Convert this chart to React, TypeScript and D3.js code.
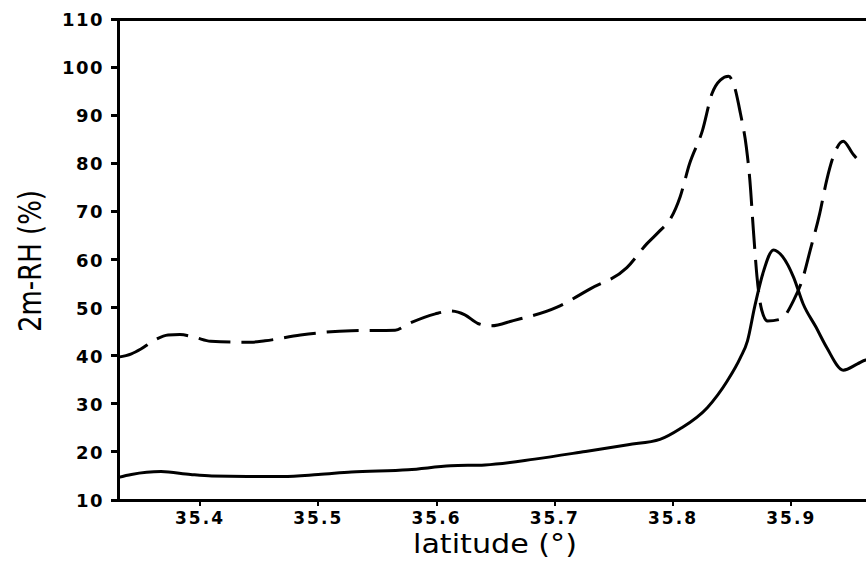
import React from "react";
import * as d3 from "d3";

// 2 m relative humidity along a meridional transect
const latSolid = [35.331, 35.342, 35.367, 35.392, 35.41, 35.44, 35.47, 35.5, 35.528, 35.576, 35.612, 35.641, 35.683, 35.726, 35.762, 35.789, 35.806, 35.829, 35.846, 35.857, 35.863, 35.869, 35.876, 35.885, 35.893, 35.902, 35.91, 35.921, 35.93, 35.944, 35.956, 35.963, 35.975];
const rhSolid = [14.7, 15.3, 15.9, 15.3, 15.0, 14.9, 14.9, 15.3, 15.8, 16.3, 17.1, 17.3, 18.5, 20.1, 21.5, 22.6, 24.8, 29.2, 34.8, 39.6, 43.1, 50.1, 57.1, 62.0, 60.5, 56.3, 50.8, 45.9, 41.7, 37.0, 38.3, 39.1, 39.4];

const latDashed = [35.331, 35.342, 35.35, 35.362, 35.373, 35.383, 35.396, 35.409, 35.443, 35.455, 35.485, 35.528, 35.565, 35.576, 35.599, 35.612, 35.624, 35.635, 35.646, 35.665, 35.702, 35.73, 35.761, 35.778, 35.789, 35.798, 35.806, 35.814, 35.825, 35.833, 35.84, 35.847, 35.852, 35.857, 35.862, 35.865, 35.868, 35.871, 35.875, 35.88, 35.891, 35.902, 35.91, 35.916, 35.924, 35.93, 35.935, 35.944, 35.952, 35.958, 35.963, 35.975];
const rhDashed = [39.7, 40.4, 41.4, 43.3, 44.3, 44.4, 43.8, 43.0, 42.8, 43.1, 44.3, 45.2, 45.3, 46.6, 48.7, 49.3, 48.5, 46.7, 46.2, 47.3, 50.1, 53.9, 58.3, 63.3, 66.0, 68.5, 73.0, 79.9, 86.9, 94.5, 97.3, 98.1, 95.9, 90.4, 83.4, 76.5, 66.0, 56.5, 49.5, 47.2, 47.6, 51.5, 56.3, 61.9, 69.5, 76.5, 81.0, 84.6, 82.0, 80.6, 80.6, 80.5];

const xTicks = [35.4, 35.5, 35.6, 35.7, 35.8, 35.9];
const yTicks = [10, 20, 30, 40, 50, 60, 70, 80, 90, 100, 110];

const W = 866;
const H = 567;

export default function App() {
  const x = d3.scaleLinear().domain([35.4, 35.8]).range([200, 673]);
  const xLeft = 35.3307;
  const xRight = 36.0;
  const y = d3.scaleLinear().domain([10, 110]).range([500, 19]);

  const left = x(xLeft);
  const right = x(xRight);

  const line = d3
    .line<[number, number]>()
    .x((d) => x(d[0]))
    .y((d) => y(d[1]))
    .curve(d3.curveMonotoneX);

  const solid = line(latSolid.map((l, i) => [l, rhSolid[i]]) as [number, number][]);
  const dashed = line(latDashed.map((l, i) => [l, rhDashed[i]]) as [number, number][]);

  const tickFont = "'DejaVu Sans', sans-serif";

  return (
    <svg
      width={W}
      height={H}
      style={{ position: "absolute", left: 0, top: 0, background: "#fff" }}
    >
      <defs>
        <clipPath id="plot">
          <rect x={left} y={y(110)} width={right - left} height={y(10) - y(110)} />
        </clipPath>
      </defs>

      <g clipPath="url(#plot)" fill="none" stroke="#000" strokeWidth={3} strokeLinejoin="round">
        <path d={solid ?? ""} />
        <path d={dashed ?? ""} strokeDasharray="32 11" strokeLinecap="butt" />
      </g>

      {/* frame */}
      <rect
        x={left}
        y={y(110)}
        width={right - left}
        height={y(10) - y(110)}
        fill="none"
        stroke="#000"
        strokeWidth={3}
        shapeRendering="crispEdges"
      />

      {/* y axis ticks and labels */}
      {yTicks.map((t) => (
        <g key={"y" + t}>
          <line x1={left - 7} x2={left} y1={y(t)} y2={y(t)} stroke="#000" strokeWidth={3} shapeRendering="crispEdges" />
          <text
            x={104}
            y={y(t) + 7}
            textAnchor="end"
            fontFamily={tickFont}
            fontWeight="bold"
            fontSize={18}
            letterSpacing={1.5}
            fill="#000"
          >
            {t}
          </text>
        </g>
      ))}

      {/* x axis ticks and labels */}
      {xTicks.map((t) => (
        <g key={"x" + t}>
          <line x1={x(t)} x2={x(t)} y1={y(10)} y2={y(10) + 6} stroke="#000" strokeWidth={2} shapeRendering="crispEdges" />
          <text
            x={x(t)}
            y={524}
            textAnchor="middle"
            fontFamily={tickFont}
            fontWeight="bold"
            fontSize={17}
            letterSpacing={2}
            fill="#000"
          >
            {t.toFixed(1)}
          </text>
        </g>
      ))}

      {/* axis titles */}
      <text
        x={495}
        y={553}
        textAnchor="middle"
        fontFamily={tickFont}
        fontSize={26}
        textLength={164}
        lengthAdjust="spacingAndGlyphs"
        fill="#000"
      >
        latitude  (°)
      </text>
      <text
        transform={`translate(41, 261) rotate(-90)`}
        textAnchor="middle"
        fontFamily={tickFont}
        fontSize={32}
        textLength={142}
        lengthAdjust="spacingAndGlyphs"
        fill="#000"
      >
        2m-RH (%)
      </text>
    </svg>
  );
}
